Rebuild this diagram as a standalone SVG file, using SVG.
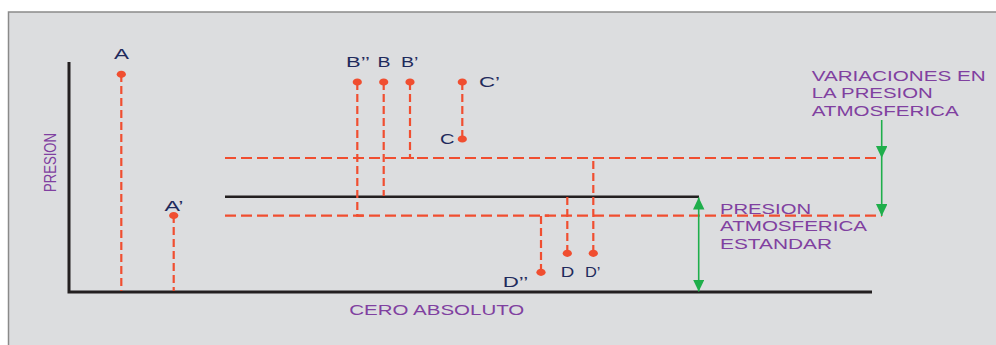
<svg xmlns="http://www.w3.org/2000/svg" width="996" height="345" viewBox="0 0 996 345">
<defs>
<style>
.lbl{font-family:"Liberation Sans",Arial,sans-serif;font-size:15.5px;fill:#1f2a5c}
.pur{font-family:"Liberation Sans",Arial,sans-serif;font-size:15.5px;fill:#8040a0}
.vd{stroke:#f04e30;stroke-width:2.2;stroke-dasharray:8 4;fill:none}
.hd{stroke:#f04e30;stroke-width:2.2;stroke-dasharray:11 5;fill:none}
.dot{fill:#f04e30}
.blk{stroke:#231f20;stroke-width:3;fill:none}
.grn{stroke:#1fae4b;stroke-width:1.6;fill:none}
</style>
<marker id="ah" markerUnits="userSpaceOnUse" markerWidth="13" markerHeight="12" refX="12" refY="5.75" orient="auto-start-reverse">
<path d="M0,0 L12,5.75 L0,11.5 z" fill="#1fae4b"/>
</marker>
</defs>
<rect x="0" y="0" width="996" height="345" fill="#ffffff"/>
<rect x="8.5" y="12" width="990" height="340" fill="#dcdddf" stroke="#8a8a8a" stroke-width="1.5"/>

<g id="axes">
<path class="blk" d="M69,62 V292 H872"/>
<text class="pur" transform="translate(56,192) rotate(-90)" textLength="59" lengthAdjust="spacingAndGlyphs" style="font-size:16.5px">PRESION</text>
<text class="pur" x="349.3" y="315" textLength="175" lengthAdjust="spacingAndGlyphs">CERO ABSOLUTO</text>
</g>

<g id="connectors">
<line class="hd" x1="225" y1="158" x2="882" y2="158"/>
<line class="hd" x1="225" y1="215.7" x2="882" y2="215.7"/>
<line class="blk" x1="225" y1="196.7" x2="699" y2="196.7" style="stroke-width:2.6"/>
<line class="vd" x1="121.3" y1="74" x2="121.3" y2="291"/>
<line class="vd" x1="173.7" y1="215" x2="173.7" y2="291"/>
<path class="vd" d="M357.3,82 V215.7 H365"/>
<line class="vd" x1="383.7" y1="82" x2="383.7" y2="196"/>
<path class="vd" d="M410,82 V158 H418"/>
<line class="vd" x1="462.3" y1="82" x2="462.3" y2="139"/>
<path class="vd" d="M541,272 V215.7 H549"/>
<line class="vd" x1="567.3" y1="253" x2="567.3" y2="197"/>
<path class="vd" d="M593.3,253 V158 H601"/>
<line class="grn" x1="698.7" y1="197.5" x2="698.7" y2="291.5" marker-start="url(#ah)" marker-end="url(#ah)"/>
<line class="grn" x1="881.7" y1="120" x2="881.7" y2="158" marker-end="url(#ah)"/>
<line class="grn" x1="881.7" y1="158" x2="881.7" y2="216" marker-end="url(#ah)"/>
</g>

<g id="A"><ellipse class="dot" cx="121.3" cy="74.3" rx="4.6" ry="3.6"/><text class="lbl" x="114" y="59" textLength="15" lengthAdjust="spacingAndGlyphs">A</text></g>
<g id="A2"><ellipse class="dot" cx="173.7" cy="215.5" rx="4.6" ry="3.6"/><text class="lbl" x="164.5" y="210.5" textLength="19" lengthAdjust="spacingAndGlyphs">A’</text></g>
<g id="B2"><ellipse class="dot" cx="357.3" cy="82" rx="4.6" ry="3.6"/><text class="lbl" x="346" y="67.3" textLength="24" lengthAdjust="spacingAndGlyphs">B’’</text></g>
<g id="B"><ellipse class="dot" cx="383.7" cy="82" rx="4.6" ry="3.6"/><text class="lbl" x="377.5" y="67.3" textLength="13" lengthAdjust="spacingAndGlyphs">B</text></g>
<g id="B1"><ellipse class="dot" cx="410" cy="82" rx="4.6" ry="3.6"/><text class="lbl" x="401" y="67.3" textLength="17.5" lengthAdjust="spacingAndGlyphs">B’</text></g>
<g id="C1"><ellipse class="dot" cx="462.3" cy="82" rx="4.6" ry="3.6"/><text class="lbl" x="479" y="86.7" textLength="21" lengthAdjust="spacingAndGlyphs">C’</text></g>
<g id="C"><ellipse class="dot" cx="462.3" cy="139" rx="4.6" ry="3.6"/><text class="lbl" x="440" y="143.5" textLength="14.5" lengthAdjust="spacingAndGlyphs">C</text></g>
<g id="D2"><ellipse class="dot" cx="541" cy="272.3" rx="4.6" ry="3.6"/><text class="lbl" x="502.7" y="286.7" textLength="25.6" lengthAdjust="spacingAndGlyphs">D’’</text></g>
<g id="D"><ellipse class="dot" cx="567.3" cy="253.3" rx="4.6" ry="3.6"/><text class="lbl" x="560.7" y="276.7" textLength="13.5" lengthAdjust="spacingAndGlyphs">D</text></g>
<g id="D1"><ellipse class="dot" cx="593.3" cy="253.3" rx="4.6" ry="3.6"/><text class="lbl" x="585" y="276.7" textLength="15.5" lengthAdjust="spacingAndGlyphs">D’</text></g>

<g id="variaciones">
<text class="pur" x="811.7" y="81" textLength="174" lengthAdjust="spacingAndGlyphs">VARIACIONES EN</text>
<text class="pur" x="811.7" y="98" textLength="121" lengthAdjust="spacingAndGlyphs">LA PRESION</text>
<text class="pur" x="811.7" y="115.7" textLength="147" lengthAdjust="spacingAndGlyphs">ATMOSFERICA</text>
</g>
<g id="estandar">
<text class="pur" x="720" y="214.3" textLength="91" lengthAdjust="spacingAndGlyphs">PRESION</text>
<text class="pur" x="720" y="231" textLength="147" lengthAdjust="spacingAndGlyphs">ATMOSFERICA</text>
<text class="pur" x="720" y="249" textLength="112" lengthAdjust="spacingAndGlyphs">ESTANDAR</text>
</g>
</svg>
